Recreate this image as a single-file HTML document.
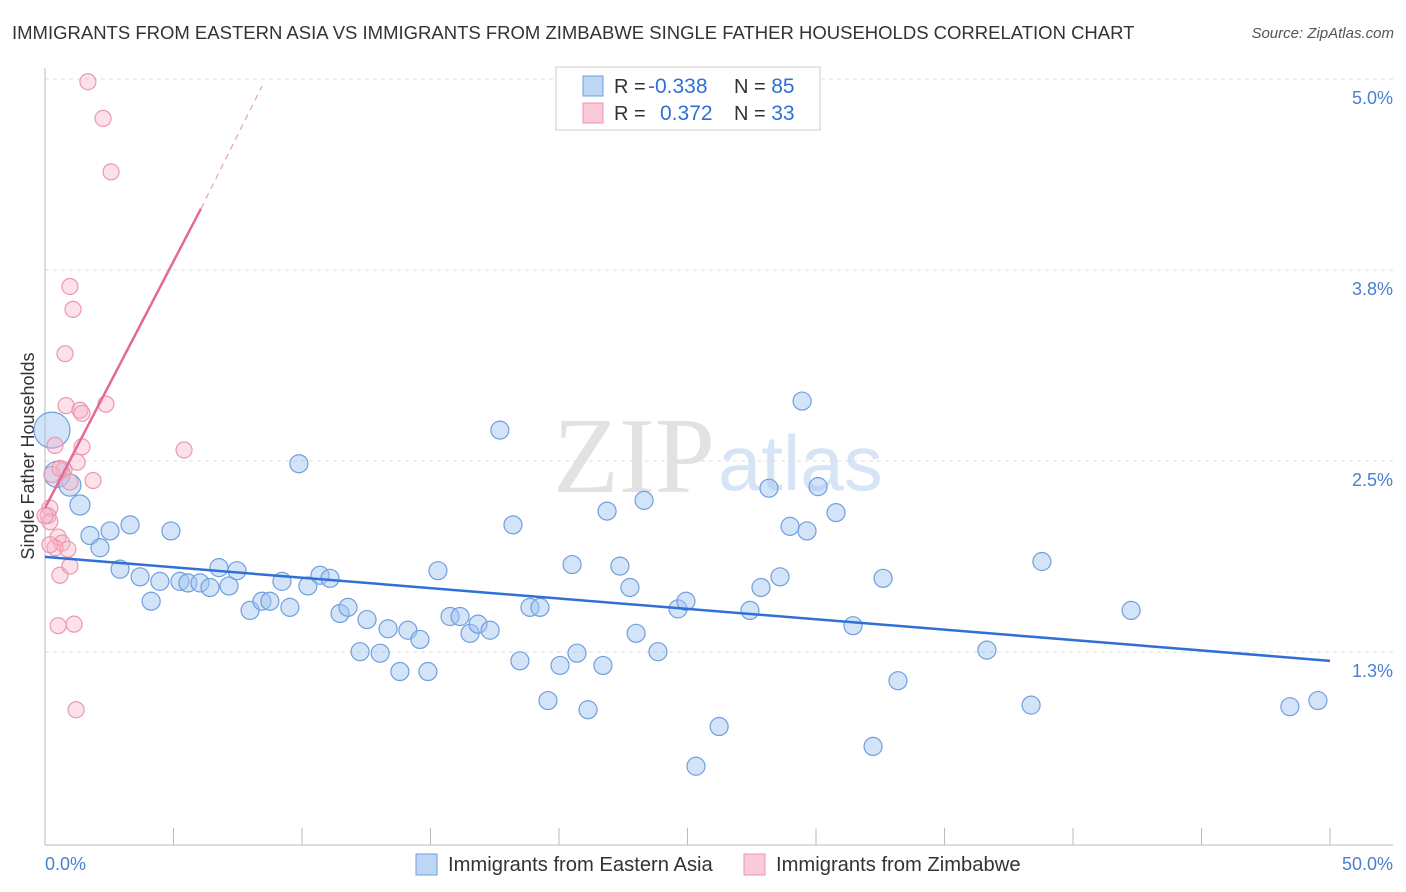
<!DOCTYPE html>
<html><head><meta charset="utf-8">
<style>
body{margin:0;background:#fff;font-family:"Liberation Sans",sans-serif;}
#wrap{position:relative;width:1406px;height:892px;overflow:hidden;}
.t{position:absolute;white-space:nowrap;}
</style></head>
<body>
<div id="wrap">
<div class="t" style="left:12px;top:22px;font-size:18.5px;color:#333;">IMMIGRANTS FROM EASTERN ASIA VS IMMIGRANTS FROM ZIMBABWE SINGLE FATHER HOUSEHOLDS CORRELATION CHART</div>
<div class="t" style="right:12px;top:25px;font-size:15px;color:#555;font-style:italic;">Source: ZipAtlas.com</div>
<svg id="plot" width="1406" height="892" style="position:absolute;left:0;top:0"></svg>
</div>
<script>
const blueX=[0.27,0.47,0.97,1.36,1.75,2.14,2.53,3.31,4.90,2.92,3.70,4.13,4.47,5.25,5.56,6.03,6.42,7.16,6.77,7.47,7.98,8.44,8.75,9.22,9.53,9.88,10.23,10.70,11.09,11.48,11.79,12.26,12.53,13.04,13.35,13.81,14.12,14.59,14.90,15.29,15.76,16.15,16.54,16.85,17.32,17.70,18.21,18.48,18.87,19.26,19.57,20.04,20.51,20.70,21.13,21.71,21.87,22.37,22.76,23.00,23.31,23.85,24.63,24.94,25.33,26.23,27.43,27.86,28.17,28.60,28.99,29.46,29.65,30.08,30.78,31.44,32.22,32.61,33.19,36.65,38.37,38.79,42.26,48.44,49.53];
const blueY=[2.82,2.53,2.46,2.33,2.13,2.05,2.16,2.20,2.16,1.91,1.86,1.70,1.83,1.83,1.82,1.82,1.79,1.80,1.92,1.90,1.64,1.70,1.70,1.83,1.66,2.60,1.80,1.87,1.85,1.62,1.66,1.37,1.58,1.36,1.52,1.24,1.51,1.45,1.24,1.90,1.60,1.60,1.49,1.55,1.51,2.82,2.20,1.31,1.66,1.66,1.05,1.28,1.94,1.36,0.99,1.28,2.29,1.93,1.79,1.49,2.36,1.37,1.65,1.70,0.62,0.88,1.64,1.79,2.44,1.86,2.19,3.01,2.16,2.45,2.28,1.54,0.75,1.85,1.18,1.38,1.02,1.96,1.64,1.01,1.05];
const blueR=[18,13,11,10];
const pinkX=[1.67,2.26,2.57,0.97,1.09,0.78,0.82,1.36,1.44,2.37,5.41,0.39,1.44,1.25,1.87,0.74,0.97,0.19,0.12,0.19,0.51,0.66,0.39,0.89,0.58,0.97,0.51,1.13,1.21,0.19,0.27,0.58,0.0];
const pinkY=[5.10,4.86,4.51,3.76,3.61,3.32,2.98,2.95,2.93,2.99,2.69,2.72,2.71,2.61,2.49,2.56,2.48,2.31,2.26,2.22,2.12,2.08,2.05,2.04,1.87,1.93,1.54,1.55,0.99,2.07,2.53,2.57,2.26];
const blueTrend=[[0,1.99],[50,1.31]];
const pinkTrendSolid=[[0,2.31],[6.07,4.27]];
const pinkTrendDash=[[6.07,4.27],[8.44,5.07]];
const yTicks=[1.25,2.5,3.75,5.0];
const yTickLabels=["1.3%","2.5%","3.8%","5.0%"];
const xTicks=[0,5,10,15,20,25,30,35,40,45,50];

const X=v=>45+v*25.7;
const Y=v=>97+(5-v)*152.8;
const svg=document.getElementById('plot');
const NS='http://www.w3.org/2000/svg';
function mk(tag,attrs,parent){const e=document.createElementNS(NS,tag);for(const k in attrs)e.setAttribute(k,attrs[k]);(parent||svg).appendChild(e);return e;}

let wm=mk('text',{x:553,y:492,'font-size':108,'font-family':'Liberation Serif, serif',fill:'#e2e2e2'});
wm.textContent='ZIP';


let wm2=mk('text',{x:718,y:490,'font-size':78,'font-family':'Liberation Sans, sans-serif',fill:'#d6e4f5'});
wm2.textContent='atlas';



yTicks.forEach((t,i)=>{
  const g=mk('line',{x1:45,x2:1393,y1:Y(t)-18,y2:Y(t)-18,stroke:'#ddd','stroke-dasharray':'4,4'});
  
  
  const l=mk('text',{x:1393,y:Y(t)+7,'text-anchor':'end','font-size':18,fill:'#4a7fd0'});
  l.textContent=yTickLabels[i];
  
  
});
let ax=mk('line',{x1:45,x2:45,y1:68,y2:845,stroke:'#bbb'});


let bx=mk('line',{x1:45,x2:1393,y1:845,y2:845,stroke:'#bbb'});


xTicks.forEach(t=>{
  const k=mk('line',{x1:X(t),x2:X(t),y1:828,y2:845,stroke:'#bbb'});
  
  
});
let xl0=mk('text',{x:45,y:870,'font-size':18,fill:'#4a7fd0'});xl0.textContent='0.0%';


let xl1=mk('text',{x:1393,y:870,'text-anchor':'end','font-size':18,fill:'#4a7fd0'});xl1.textContent='50.0%';


let yt=mk('text',{x:34,y:456,'font-size':18,fill:'#333','text-anchor':'middle',transform:'rotate(-90 34 456)'});yt.textContent='Single Father Households';



blueX.forEach((x,i)=>{
  const c=mk('circle',{cx:X(x),cy:Y(blueY[i]),r:blueR[i]||9,fill:'rgba(160,196,240,0.45)',stroke:'#6f9fdf','stroke-width':1.2});
  
  
});
pinkX.forEach((x,i)=>{
  const c=mk('circle',{cx:X(x),cy:Y(pinkY[i]),r:8,fill:'rgba(248,180,200,0.4)',stroke:'#ec97b0','stroke-width':1.2});
  
  
});
let bl=mk('line',{x1:X(blueTrend[0][0]),y1:Y(blueTrend[0][1]),x2:X(blueTrend[1][0]),y2:Y(blueTrend[1][1]),stroke:'#2f6fd6','stroke-width':2.5});


let pl=mk('line',{x1:X(pinkTrendSolid[0][0]),y1:Y(pinkTrendSolid[0][1]),x2:X(pinkTrendSolid[1][0]),y2:Y(pinkTrendSolid[1][1]),stroke:'#e36b93','stroke-width':2.5});


let pd=mk('line',{x1:X(pinkTrendDash[0][0]),y1:Y(pinkTrendDash[0][1]),x2:X(pinkTrendDash[1][0]),y2:Y(pinkTrendDash[1][1]),stroke:'#eaa0b8','stroke-width':1.2,'stroke-dasharray':'6,5'});



let lg=mk('rect',{x:556,y:67,width:264,height:63,fill:'#fff',stroke:'#ccc'});


const rows=[{c:'rgba(160,196,240,0.7)',s:'#6f9fdf',r:'-0.338',n:'85',y:86},{c:'rgba(248,180,200,0.7)',s:'#ec97b0',r:'0.372',n:'33',y:113}];
rows.forEach(o=>{
  const sw=mk('rect',{x:583,y:o.y-10,width:20,height:20,fill:o.c,stroke:o.s});
  
  
  const t=mk('text',{x:614,y:o.y+7,'font-size':20,fill:'#333'});
  t.innerHTML='R = <tspan fill="#2f6fd6" x="'+(o.r[0]=='-'?648:660)+'" font-size="21">'+o.r+'</tspan><tspan x="734" fill="#333">N = </tspan><tspan fill="#2f6fd6" font-size="21">'+o.n+'</tspan>';
  
  
});
[[416,'rgba(160,196,240,0.7)','#6f9fdf','Immigrants from Eastern Asia','legend-eastern-asia'],[744,'rgba(248,180,200,0.7)','#ec97b0','Immigrants from Zimbabwe','legend-zimbabwe']].forEach(a=>{
  const r=mk('rect',{x:a[0],y:854,width:21,height:21,fill:a[1],stroke:a[2]});
  
  
  const t=mk('text',{x:a[0]+32,y:871,'font-size':20.2,fill:'#333'});t.textContent=a[3];
  
  
});
</script>
</body></html>
